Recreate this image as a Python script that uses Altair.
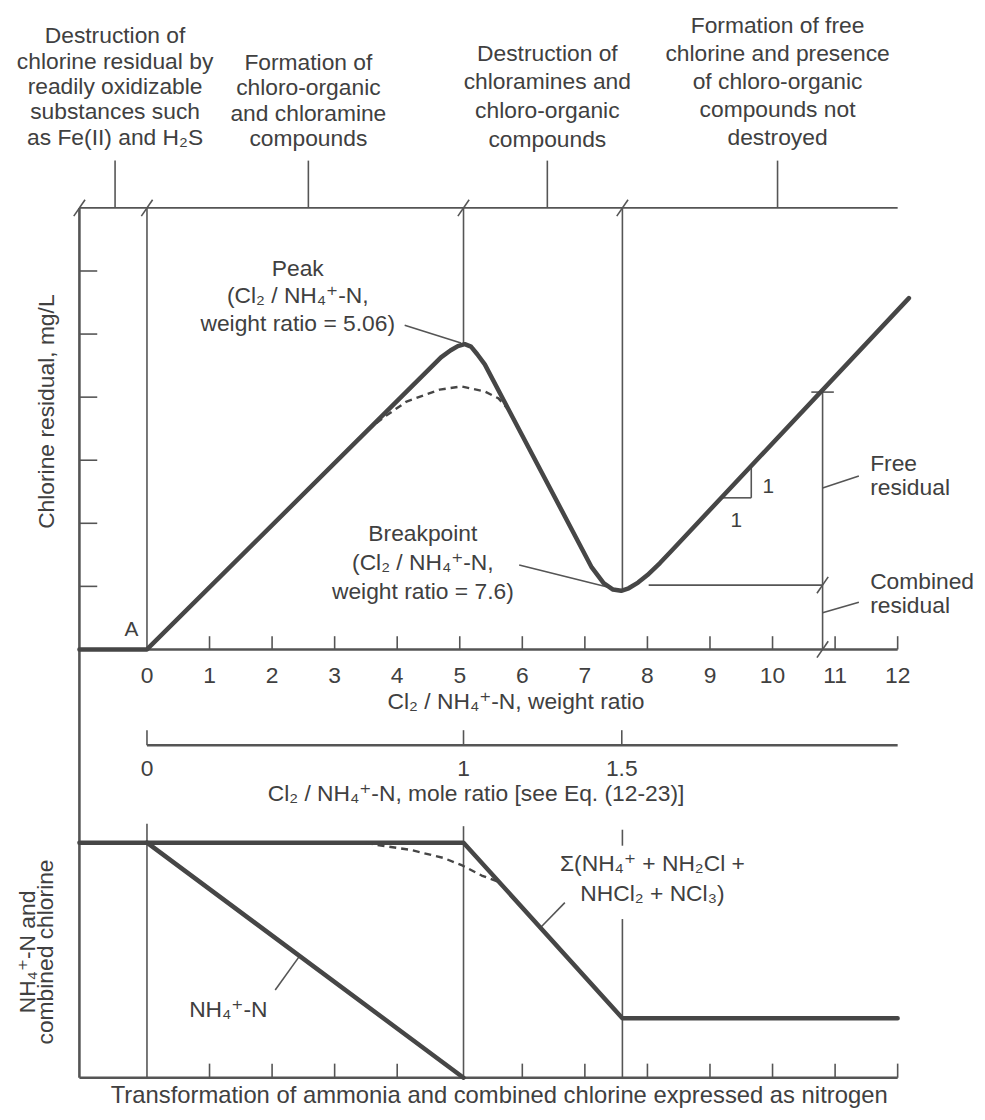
import altair as alt
import pandas as pd

FONT = "Liberation Sans, Arial, DejaVu Sans, sans-serif"
INK = "#404040"
FRAME = "#555555"
CURVE = "#464646"
FS = 23

# ---------------- scales (data units) ----------------
X_DOMAIN = [-1.08, 12.0]        # Cl2/NH4-N weight ratio
TOP_DOMAIN = [-6.79, 7.0]       # chlorine residual, mg/L (upper panel)
BOT_DOMAIN = [0.0, 3.70]        # relative nitrogen (lower panel)
X0 = X_DOMAIN[0]

# ---------------- data ----------------
# upper panel: chlorine residual curve
resid_x = [-1.08, 0.0, 4.70, 4.85, 4.97, 5.08, 5.18, 5.28, 5.40, 7.11, 7.30, 7.45,
           7.58, 7.70, 7.85, 8.00, 8.20, 8.39, 12.18]
resid_y = [0.0, 0.0, 4.63, 4.74, 4.81, 4.84, 4.80, 4.68, 4.52, 1.30, 1.05, 0.95,
           0.93, 0.97, 1.06, 1.18, 1.37, 1.57, 5.57]
# upper panel: dashed curve below the peak
resid_dash_x = [3.52, 3.80, 4.15, 4.68, 5.03, 5.40, 5.62, 5.78, 5.85]
resid_dash_y = [3.47, 3.69, 3.93, 4.12, 4.17, 4.09, 3.98, 3.80, 3.67]

# lower panel
comb_x = [-1.08, 5.06, 7.60, 12.0]
comb_y = [1.0, 1.0, 0.253, 0.253]
nh4_x = [0.0, 5.06]
nh4_y = [1.0, 0.0]
comb_dash_x = [3.50, 3.68, 4.20, 4.74, 5.04, 5.35, 5.63]
comb_dash_y = [1.0, 0.99, 0.97, 0.935, 0.903, 0.86, 0.832]

weight_ticks = list(range(0, 13))
mole_ticks = [0, 1, 1.5]
mole_labels = ["0", "1", "1.5"]
MOLE_TO_WEIGHT = 5.06

PEAK_X, PEAK_Y = 5.06, 4.84
BREAK_X, BREAK_Y = 7.6, 0.93
FREE_X, FREE_TOP, COMB_LEVEL = 10.80, 4.08, 1.02

phase_x = [-0.51, 2.58, 6.40, 10.08]
phase_text = [
    "Destruction of\nchlorine residual by\nreadily oxidizable\nsubstances such\nas Fe(II) and H\u2082S",
    "Formation of\nchloro-organic\nand chloramine\ncompounds",
    "Destruction of\nchloramines and\nchloro-organic\ncompounds",
    "Formation of free\nchlorine and presence\nof chloro-organic\ncompounds not\ndestroyed",
]
phase_top = [9.89, 9.47, 9.62, 10.06]
phase_lh = [25.5, 25.7, 29, 28.3]

MOLE_Y = -1.52

XS = alt.Scale(domain=X_DOMAIN, nice=False, zero=False)


def yscale(dom):
    return alt.Scale(domain=dom, nice=False, zero=False)


def segments(rows, dom, width, color=FRAME):
    df = pd.DataFrame(rows, columns=["x", "y", "x2", "y2"])
    return alt.Chart(df).mark_rule(color=color, strokeWidth=width).encode(
        x=alt.X("x:Q", scale=XS, axis=None),
        x2="x2:Q",
        y=alt.Y("y:Q", scale=yscale(dom), axis=None),
        y2="y2:Q",
    )


def curve(xs, ys, dom, width, dash=None):
    df = pd.DataFrame({"x": xs, "y": ys, "o": list(range(len(xs)))})
    kw = dict(color=CURVE, strokeWidth=width, strokeJoin="round", strokeCap="round")
    if dash:
        kw["strokeDash"] = dash
        kw["strokeCap"] = "butt"
    return alt.Chart(df).mark_line(**kw).encode(
        x=alt.X("x:Q", scale=XS, axis=None),
        y=alt.Y("y:Q", scale=yscale(dom), axis=None),
        order="o:Q",
    )


def label(rows, dom, size=FS, align="center", baseline="middle", lh=None, angle=None):
    df = pd.DataFrame(rows, columns=["x", "y", "t"])
    kw = dict(font=FONT, fontSize=size, color=INK, align=align, baseline=baseline,
              lineBreak="\n")
    if lh:
        kw["lineHeight"] = lh
    if angle is not None:
        kw["angle"] = angle
    return alt.Chart(df).mark_text(**kw).encode(
        x=alt.X("x:Q", scale=XS, axis=None),
        y=alt.Y("y:Q", scale=yscale(dom), axis=None),
        text="t:N",
    )


def slash(x, y, dx=0.09, dy=0.13):
    return (x - dx, y - dy, x + dx, y + dy)


def rising(x):
    # value on the straight free-chlorine branch, from the curve points
    return resid_y[-2] + (resid_y[-1] - resid_y[-2]) / (resid_x[-1] - resid_x[-2]) * (x - resid_x[-2])


tri_a, tri_b = 9.18, 9.66

top_thin = (
    [(X0, 7, 12, 7), (0, 0, 0, 7), (PEAK_X, PEAK_Y, PEAK_X, 7), (BREAK_X, BREAK_Y, BREAK_X, 7)]
    + [(p, 7, p, 7.75) for p in phase_x]
    + [(X0, k, X0 + 0.285, k) for k in range(1, 7)]
    + [(k, 0, k, 0.21) for k in range(1, 13)]
    + [(m * MOLE_TO_WEIGHT, MOLE_Y, m * MOLE_TO_WEIGHT, MOLE_Y + 0.24) for m in mole_ticks]
    + [(FREE_X, 0, FREE_X, FREE_TOP), (FREE_X - 0.18, FREE_TOP, FREE_X + 0.18, FREE_TOP),
       (8.02, COMB_LEVEL, FREE_X, COMB_LEVEL)]
    + [(4.12, 5.14, 5.02, 4.86),            # peak leader
       (5.95, 1.34, 7.52, 0.95),            # breakpoint leader
       (10.80, 2.56, 11.38, 2.75),          # free residual leader
       (10.80, 0.58, 11.38, 0.75)]          # combined residual leader
    + [(tri_a, rising(tri_a), tri_b, rising(tri_a)), (tri_b, rising(tri_a), tri_b, rising(tri_b))]
    + [slash(X0, 7), slash(0, 7), slash(PEAK_X, 7), slash(BREAK_X, 7),
       slash(FREE_X, COMB_LEVEL), slash(FREE_X, 0)]
)
top_thick = [(X0, 7, X0, TOP_DOMAIN[0]), (X0, 0, 12, 0), (0, MOLE_Y, 12, MOLE_Y)]

bot_thin = (
    [(0, 0, 0, 1.08), (PEAK_X, 0, PEAK_X, 1.07), (BREAK_X, 0, BREAK_X, 0.675),
     (BREAK_X, 0.987, BREAK_X, 1.055)]
    + [(k, 0, k, 0.06) for k in range(1, 13) if k != 5]
    + [(2.05, 0.373, 2.43, 0.514), (6.30, 0.641, 6.68, 0.745)]
)
bot_thick = [(X0, 0, 12, 0)]

layers = [
    segments(top_thin, TOP_DOMAIN, 1.6),
    segments(top_thick, TOP_DOMAIN, 2.6),
    segments(bot_thin, BOT_DOMAIN, 1.6),
    segments(bot_thick, BOT_DOMAIN, 2.6),
    curve(resid_x, resid_y, TOP_DOMAIN, 4.5),
    curve(resid_dash_x, resid_dash_y, TOP_DOMAIN, 2.4, dash=[7, 5]),
    curve(comb_x, comb_y, BOT_DOMAIN, 4.5),
    curve(nh4_x, nh4_y, BOT_DOMAIN, 4.5),
    curve(comb_dash_x, comb_dash_y, BOT_DOMAIN, 2.4, dash=[7, 5]),
]

# phase headers
for px, t, ty, lh in zip(phase_x, phase_text, phase_top, phase_lh):
    layers.append(label([(px, ty, t)], TOP_DOMAIN, baseline="top", lh=lh))

layers += [
    label([(2.41, 6.21, "Peak\n(Cl\u2082 / NH\u2084\u207a-N,\nweight ratio = 5.06)")],
          TOP_DOMAIN, baseline="top", lh=28),
    label([(4.41, 2.00, "Breakpoint\n(Cl\u2082 / NH\u2084\u207a-N,\nweight ratio = 7.6)")],
          TOP_DOMAIN, baseline="top", lh=29),
    label([(11.56, 3.12, "Free\nresidual"), (11.56, 1.24, "Combined\nresidual")],
          TOP_DOMAIN, align="left", baseline="top", lh=24.5),
    label([(-0.25, 0.31, "A")], TOP_DOMAIN, size=21),
    label([(9.93, 2.58, "1"), (9.42, 2.04, "1")], TOP_DOMAIN, size=21),
    label([(k, -0.42, str(k)) for k in weight_ticks], TOP_DOMAIN),
    label([(5.9, -0.83, "Cl\u2082 / NH\u2084\u207a-N, weight ratio")], TOP_DOMAIN),
    label([(m * MOLE_TO_WEIGHT, -1.90, s) for m, s in zip(mole_ticks, mole_labels)], TOP_DOMAIN),
    label([(5.26, -2.29, "Cl\u2082 / NH\u2084\u207a-N, mole ratio [see Eq. (12-23)]")], TOP_DOMAIN),
    label([(-1.60, 3.77, "Chlorine residual, mg/L")], TOP_DOMAIN, angle=270),
    # lower panel texts
    label([(8.08, 0.955, "\u03a3(NH\u2084\u207a + NH\u2082Cl +\nNHCl\u2082 + NCl\u2083)")],
          BOT_DOMAIN, baseline="top", lh=30),
    label([(1.30, 0.29, "NH\u2084\u207a-N")], BOT_DOMAIN),
    label([(-1.79, 0.535, "NH\u2084\u207a-N and"), (-1.51, 0.535, "combined chlorine")],
          BOT_DOMAIN, size=23, baseline="alphabetic", angle=270),
    label([(5.63, -0.08,
            "Transformation of ammonia and combined chlorine expressed as nitrogen")],
          BOT_DOMAIN, size=24),
]

chart = (
    alt.layer(*layers)
    .resolve_scale(y="independent")
    .properties(
        width=825,
        height=877,
        padding={"left": 72, "top": 197, "right": 80, "bottom": 32},
        autosize=alt.AutoSizeParams(type="none"),
        background="white",
    )
    .configure_view(stroke=None)
)

chart.save("out.html", embed_options={"renderer": "svg", "actions": False})
